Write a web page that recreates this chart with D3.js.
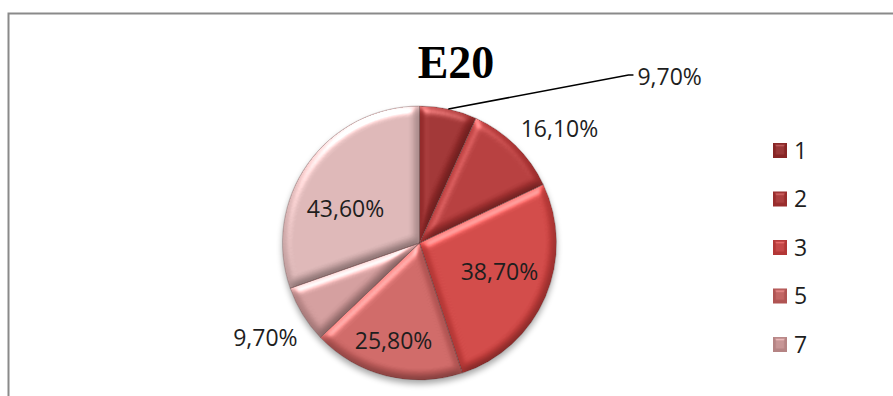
<!DOCTYPE html>
<html>
<head>
<meta charset="utf-8">
<script src="https://cdn.jsdelivr.net/npm/d3@7/dist/d3.min.js"></script>
<style>
  html, body { margin: 0; padding: 0; background: #fff; }
  svg { display: block; }
</style>
</head>
<body>
<svg id="chart" width="893" height="396"></svg>
<script>
// Chart data
const title = "E20";
const categories = ["1", "2", "3", "5", "7", ""];
const values = [9.7, 16.1, 38.7, 25.8, 9.7, 43.6];
const valueLabels = ["9,70%", "16,10%", "38,70%", "25,80%", "9,70%", "43,60%"];
const colors = ["#9e2c2c", "#b43535", "#d2413f", "#cf6361", "#d49b9b", "#deb6b6"];

const W = 893, H = 396;
const cx = 419.5, cy = 243, R = 137;

// label placement: angle (deg, clockwise from 12 o'clock) and radius as a fraction of R
const labelLayout = [
  { a: 52.7, r: 2.0, anchor: "start", leader: true },
  { a: 50.8, r: 1.318, anchor: "middle" },
  { a: 109.6, r: 0.62, anchor: "middle" },
  { a: 194.9, r: 0.737, anchor: "middle" },
  { a: 238.5, r: 1.319, anchor: "middle" },
  { a: 295, r: 0.596, anchor: "middle" }
];

const svg = d3.select("#chart");
const defs = svg.append("defs");

// bevel lighting for the slices
const bevel = defs.append("filter").attr("id", "bevel")
  .attr("color-interpolation-filters", "sRGB")
  .attr("x", "-10%").attr("y", "-10%").attr("width", "120%").attr("height", "120%");
bevel.append("feGaussianBlur").attr("in", "SourceAlpha").attr("stdDeviation", 4).attr("result", "blur");
const spec = bevel.append("feSpecularLighting").attr("in", "blur")
  .attr("surfaceScale", 4).attr("specularConstant", 0.6).attr("specularExponent", 18)
  .attr("lighting-color", "#ffffff").attr("result", "spec");
spec.append("feDistantLight").attr("azimuth", 250).attr("elevation", 40);
bevel.append("feComposite").attr("in", "spec").attr("in2", "SourceAlpha").attr("operator", "in").attr("result", "specIn");
const diff = bevel.append("feDiffuseLighting").attr("in", "blur")
  .attr("surfaceScale", 4).attr("diffuseConstant", 1.0).attr("lighting-color", "#ffffff").attr("result", "diff");
diff.append("feDistantLight").attr("azimuth", 250).attr("elevation", 55);
bevel.append("feComposite").attr("in", "SourceGraphic").attr("in2", "diff")
  .attr("operator", "arithmetic").attr("k1", 0.55).attr("k2", 0.48).attr("k3", 0).attr("k4", 0).attr("result", "lit");
bevel.append("feComposite").attr("in", "lit").attr("in2", "SourceAlpha").attr("operator", "in").attr("result", "litIn");
bevel.append("feComposite").attr("in", "litIn").attr("in2", "specIn")
  .attr("operator", "arithmetic").attr("k1", 0).attr("k2", 1).attr("k3", 0.6).attr("k4", 0);

// small bevel for legend keys
const kb = defs.append("filter").attr("id", "keyBevel")
  .attr("color-interpolation-filters", "sRGB")
  .attr("x", "-20%").attr("y", "-20%").attr("width", "140%").attr("height", "140%");
kb.append("feGaussianBlur").attr("in", "SourceAlpha").attr("stdDeviation", 1.5).attr("result", "blur");
const ks = kb.append("feSpecularLighting").attr("in", "blur")
  .attr("surfaceScale", 3).attr("specularConstant", 0.6).attr("specularExponent", 14)
  .attr("lighting-color", "#ffffff").attr("result", "spec");
ks.append("feDistantLight").attr("azimuth", 270).attr("elevation", 45);
kb.append("feComposite").attr("in", "spec").attr("in2", "SourceAlpha").attr("operator", "in").attr("result", "specIn");
kb.append("feComposite").attr("in", "SourceGraphic").attr("in2", "specIn")
  .attr("operator", "arithmetic").attr("k1", 0).attr("k2", 1).attr("k3", 0.35).attr("k4", 0);

// soft shadow under the pie
const shadow = defs.append("filter").attr("id", "shadow")
  .attr("x", "-20%").attr("y", "-20%").attr("width", "140%").attr("height", "140%");
shadow.append("feGaussianBlur").attr("in", "SourceAlpha").attr("stdDeviation", 3);
shadow.append("feOffset").attr("dx", 0).attr("dy", 4).attr("result", "off");
shadow.append("feComponentTransfer").append("feFuncA").attr("type", "linear").attr("slope", 0.35);

// chart frame
svg.append("rect")
  .attr("x", 8.5).attr("y", 13.5).attr("width", W).attr("height", H)
  .attr("fill", "#fff").attr("stroke", "#8a8a8a").attr("stroke-width", 2);

// title
svg.append("text")
  .attr("x", 456).attr("y", 78)
  .attr("text-anchor", "middle")
  .attr("font-family", "'Liberation Serif', 'DejaVu Serif', serif")
  .attr("font-weight", "bold").attr("font-size", 46)
  .attr("fill", "#000")
  .text(title);

const pie = d3.pie().sort(null).value(d => d);
const arcs = pie(values);
const arc = d3.arc().innerRadius(0).outerRadius(R);

const g = svg.append("g").attr("transform", `translate(${cx},${cy})`);

// shadow disc
g.append("circle").attr("r", R).attr("fill", "#000").attr("filter", "url(#shadow)");

g.selectAll("path.slice")
  .data(arcs)
  .join("path")
  .attr("class", "slice")
  .attr("d", arc)
  .attr("fill", (d, i) => colors[i])
  .attr("filter", "url(#bevel)");

// faint slice separators
g.selectAll("path.sep")
  .data(arcs)
  .join("path")
  .attr("class", "sep")
  .attr("d", arc)
  .attr("fill", "none")
  .attr("stroke", "#5a3030")
  .attr("stroke-opacity", 0.35)
  .attr("stroke-width", 0.8);

// value labels
const labelFont = "'Open Sans', 'Noto Sans', sans-serif";
const polar = (deg, r) => {
  const t = deg * Math.PI / 180;
  return [r * Math.sin(t), -r * Math.cos(t)];
};

arcs.forEach((d, i) => {
  const L = labelLayout[i];
  const [x, y] = polar(L.a, L.r * R);
  if (L.leader) {
    const mid = (d.startAngle + d.endAngle) / 2;
    const p0 = [R * Math.sin(mid), -R * Math.cos(mid)];
    g.append("path")
      .attr("d", d3.line()([p0, [x - 9, y - 2], [x - 4, y - 2]]))
      .attr("fill", "none").attr("stroke", "#000").attr("stroke-width", 1.6);
  }
  g.append("text")
    .attr("x", x).attr("y", y)
    .attr("dy", "0.36em")
    .attr("text-anchor", L.anchor)
    .attr("font-family", labelFont).attr("font-size", 23)
    .attr("fill", "#1e1e1e")
    .text(valueLabels[i]);
});

// legend
const legendItems = categories.map((c, i) => ({ c, color: colors[i] })).filter(d => d.c !== "");
const lg = svg.append("g").attr("transform", "translate(773,143)");
const row = lg.selectAll("g").data(legendItems).join("g")
  .attr("transform", (d, i) => `translate(0,${i * 48.5})`);
row.append("rect")
  .attr("width", 14).attr("height", 15)
  .attr("fill", d => d3.color(d.color).darker(0.45))
  .attr("filter", "url(#keyBevel)");
row.append("text")
  .attr("x", 21).attr("y", 7.5).attr("dy", "0.36em")
  .attr("font-family", labelFont).attr("font-size", 23)
  .attr("fill", "#1e1e1e")
  .text(d => d.c);
</script>
</body>
</html>
